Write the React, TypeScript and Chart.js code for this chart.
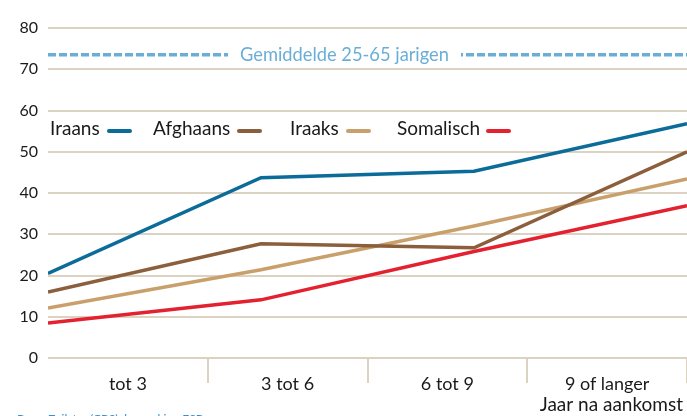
import React, { useEffect, useRef } from "react";
import { Chart, registerables } from "chart.js";

Chart.register(...registerables);

const categories = ["tot 3", "3 tot 6", "6 tot 9", "9 of langer"];
const seriesNames = ["Iraans", "Afghaans", "Iraaks", "Somalisch"];
const iraans = [20.5, 43.7, 45.3, 56.8];
const afghaans = [16.0, 27.7, 26.7, 50.0];
const iraaks = [12.1, 21.4, 32.0, 43.4];
const somalisch = [8.5, 14.1, 25.8, 36.9];
const gemiddelde = 73.5;
const gemiddeldeLabel = "Gemiddelde 25-65 jarigen";
const yTicks = [0, 10, 20, 30, 40, 50, 60, 70, 80];
const xTitle = "Jaar na aankomst";
const sourceText = "Bron: Zeilstra (CBS), bewerking ESB";

const colors = ["#0b6b99", "#8b5e3c", "#c9a06b", "#e3212f"];
const refColor = "#6aaed6";
const gridColor = "#dcd2c1";
const FONT = "Lato, 'Open Sans', sans-serif";
// legend layout (pixel positions of text starts and swatch starts)
const legendTextX = [50, 153, 290, 397];
const legendLineX = [109, 239, 348, 488];

export default function App() {
  const ref = useRef<HTMLCanvasElement | null>(null);
  useEffect(() => {
    if (!ref.current) return;
    const series = [iraans, afghaans, iraaks, somalisch];
    const toPts = (arr: number[]) => arr.map((v, i) => ({ x: i, y: v }));

    const overlay = {
      id: "overlay",
      afterDatasetsDraw(chart: any) {
        const ctx = chart.ctx;
        const ca = chart.chartArea;
        const ys = chart.scales.y;
        ctx.save();
        // reference line label
        const yRef = ys.getPixelForValue(gemiddelde);
        ctx.font = `18.3px ${FONT}`;
        const cx = ca.left + 0.464 * (ca.right - ca.left);
        const tw = ctx.measureText(gemiddeldeLabel).width;
        ctx.fillStyle = "#ffffff";
        ctx.fillRect(cx - tw / 2 - 12, yRef - 6, tw + 24, 12);
        ctx.fillStyle = refColor;
        ctx.textAlign = "center";
        ctx.textBaseline = "middle";
        ctx.fillText(gemiddeldeLabel, cx, yRef);

        // legend
        const ly = 128;
        ctx.font = `19px ${FONT}`;
        ctx.textAlign = "left";
        ctx.textBaseline = "middle";
        seriesNames.forEach((name, i) => {
          ctx.fillStyle = "#1a1a1a";
          ctx.fillText(name, legendTextX[i], ly + 1);
          const sx = legendLineX[i];
          ctx.strokeStyle = colors[i];
          ctx.lineWidth = 4;
          ctx.lineCap = "round";
          ctx.beginPath();
          ctx.moveTo(sx, ly + 3);
          ctx.lineTo(sx + 21, ly + 3);
          ctx.stroke();
        });

        // axis title
        ctx.font = `19px ${FONT}`;
        ctx.fillStyle = "#1a1a1a";
        ctx.textAlign = "right";
        ctx.textBaseline = "middle";
        ctx.fillText(xTitle, chart.width - 4, 405);

        // source
        ctx.font = `12px ${FONT}`;
        ctx.fillStyle = "#3a8fc8";
        ctx.textAlign = "left";
        ctx.textBaseline = "top";
        ctx.fillText(sourceText, 17, 413);
        ctx.restore();
      },
    };

    const chart = new Chart(ref.current, {
      type: "line",
      data: {
        datasets: [
          {
            label: gemiddeldeLabel,
            data: [{ x: 0, y: gemiddelde }, { x: categories.length - 1, y: gemiddelde }],
            borderColor: refColor,
            borderWidth: 3.5,
            borderDash: [8, 3],
            pointRadius: 0,
            xAxisID: "x",
          },
          ...series.map((s, i) => ({
            label: seriesNames[i],
            data: toPts(s),
            borderColor: colors[i],
            borderWidth: 3.5,
            pointRadius: 0,
            tension: 0,
            xAxisID: "x",
          })),
        ],
      },
      options: {
        animation: false,
        responsive: false,
        devicePixelRatio: 1,
        layout: { padding: { top: 28, left: 0, right: 0, bottom: 0 } },
        plugins: { legend: { display: false }, tooltip: { enabled: false } },
        scales: {
          x: {
            type: "linear",
            min: 0,
            max: categories.length - 1,
            display: false,
          },
          xc: {
            type: "category",
            labels: categories,
            position: "bottom",
            offset: true,
            border: { display: false },
            grid: {
              offset: true,
              drawOnChartArea: false,
              drawTicks: true,
              tickLength: 25,
              lineWidth: 2,
              color: (c: any) =>
                c.index === 0 || c.index === categories.length ? "rgba(0,0,0,0)" : gridColor,
            },
            ticks: {
              padding: -10,
              color: "#1a1a1a",
              font: { family: FONT, size: 18 },
              maxRotation: 0,
            },
            afterFit: (s: any) => {
              s.height = 58;
            },
          },
          y: {
            min: 0,
            max: 80,
            afterBuildTicks: (s: any) => {
              s.ticks = yTicks.map((v) => ({ value: v }));
            },
            border: { display: false },
            grid: { color: gridColor, lineWidth: 2, drawTicks: false },
            ticks: {
              padding: 10,
              color: "#1a1a1a",
              font: { family: FONT, size: 16 },
            },
            afterFit: (s: any) => {
              s.width = 48;
            },
          },
        },
      },
      plugins: [overlay],
    } as any);
    return () => chart.destroy();
  }, []);

  return (
    <div style={{ position: "fixed", left: 0, top: 0, width: 687, height: 416, background: "#fff" }}>
      <canvas ref={ref} width={687} height={416} />
    </div>
  );
}
